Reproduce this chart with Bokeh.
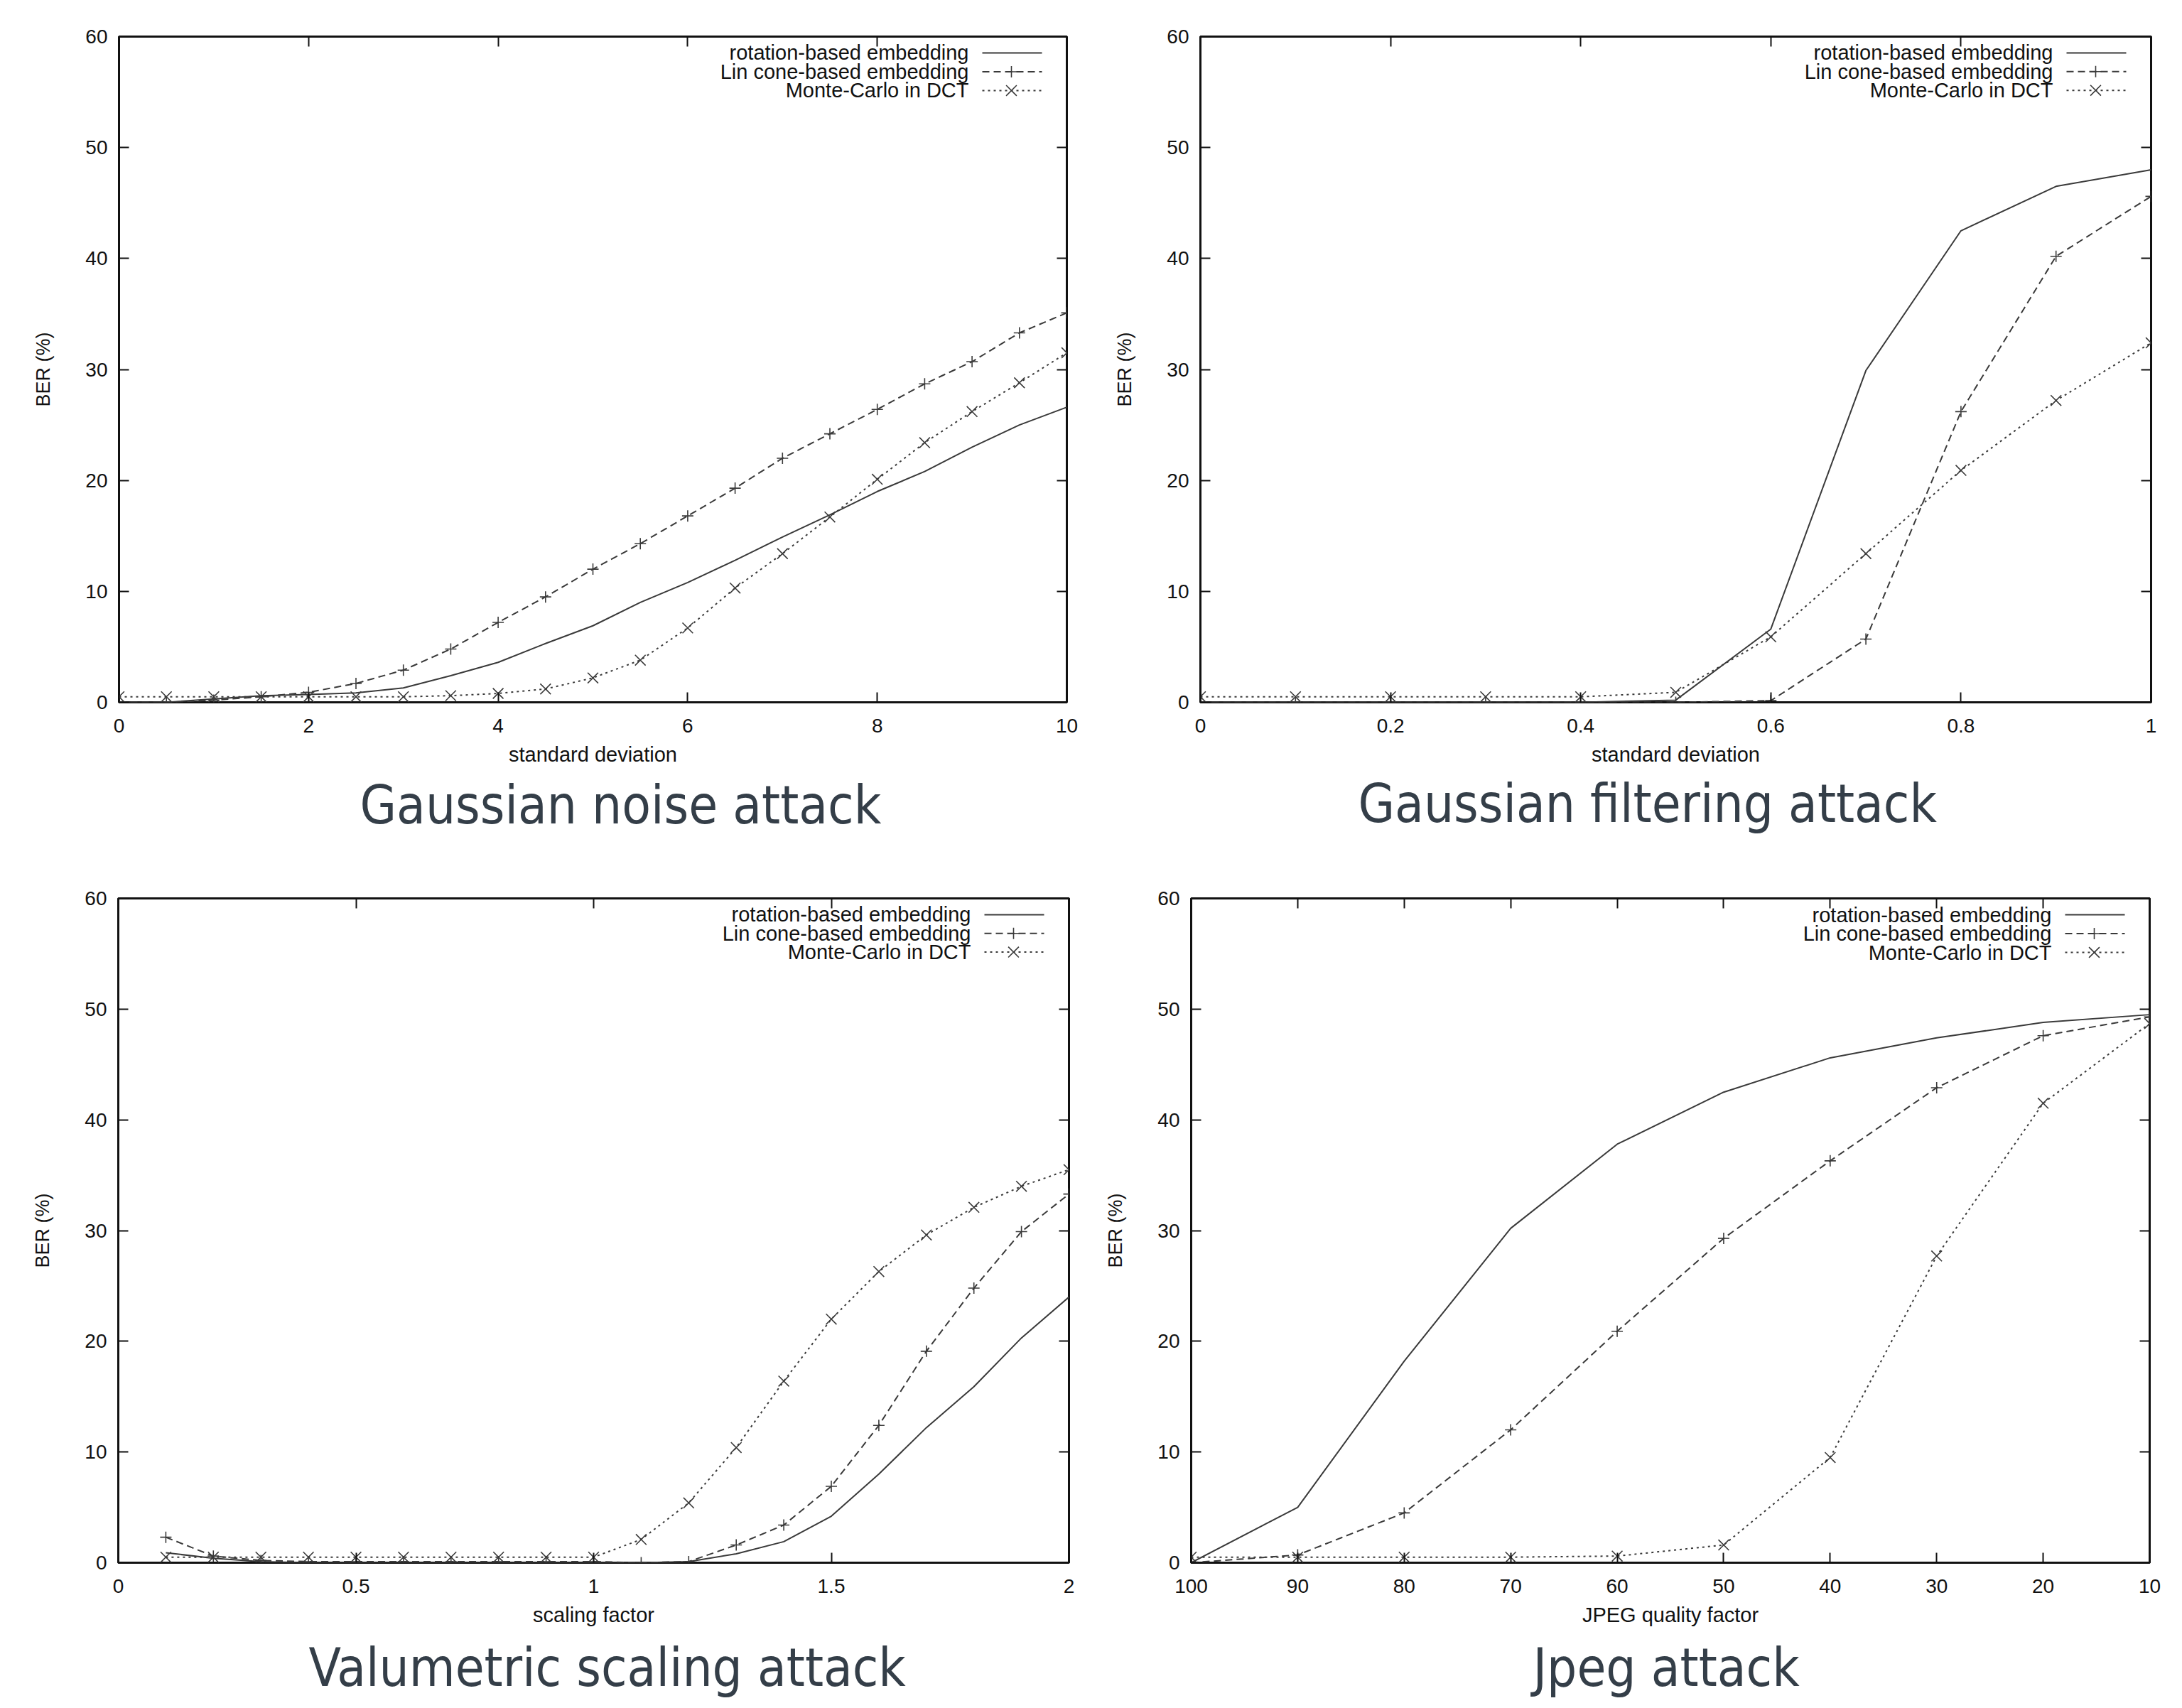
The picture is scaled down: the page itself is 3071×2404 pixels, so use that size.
from bokeh.plotting import figure
from bokeh.layouts import column, row
from bokeh.models import Range1d, FixedTicker, LinearAxis, Label, Title, CustomJSTickFormatter
from bokeh.embed import file_html
from bokeh.resources import INLINE

# ---------------- data ----------------
SERIES = ["rotation-based embedding", "Lin cone-based embedding", "Monte-Carlo in DCT"]
Y_TICKS = [0, 10, 20, 30, 40, 50, 60]
Y_LABEL = "BER (%)"

# Gaussian noise attack
noise_x = [0, 0.5, 1, 1.5, 2, 2.5, 3, 3.5, 4, 4.5, 5, 5.5, 6, 6.5, 7, 7.5, 8, 8.5, 9, 9.5, 10]
noise_rot = [0, 0, 0.3, 0.6, 0.7, 0.85, 1.3, 2.4, 3.6, 5.3, 6.9, 9.0, 10.8, 12.8, 14.9, 16.9, 19.0, 20.8, 23.0, 25.0, 26.6]
noise_lin = [0, 0, 0.2, 0.5, 0.9, 1.7, 2.9, 4.8, 7.2, 9.5, 12.0, 14.3, 16.8, 19.3, 22.0, 24.2, 26.4, 28.7, 30.7, 33.3, 35.1]
noise_mc = [0.5, 0.5, 0.5, 0.5, 0.5, 0.5, 0.5, 0.6, 0.8, 1.2, 2.2, 3.8, 6.7, 10.3, 13.4, 16.7, 20.1, 23.4, 26.2, 28.8, 31.5]
noise_ticks = [0, 2, 4, 6, 8, 10]
noise_tick_labels = ["0", "2", "4", "6", "8", "10"]

# Gaussian filtering attack
filter_x = [0, 0.1, 0.2, 0.3, 0.4, 0.5, 0.6, 0.7, 0.8, 0.9, 1.0]
filter_rot = [0, 0, 0, 0, 0, 0.2, 6.6, 29.9, 42.5, 46.5, 48.0]
filter_lin = [0, 0, 0, 0, 0, 0, 0.15, 5.7, 26.2, 40.2, 45.6]
filter_mc = [0.5, 0.5, 0.5, 0.5, 0.5, 0.9, 5.9, 13.4, 20.9, 27.2, 32.4]
filter_ticks = [0, 0.2, 0.4, 0.6, 0.8, 1]
filter_tick_labels = ["0", "0.2", "0.4", "0.6", "0.8", "1"]

# Valumetric scaling attack
scale_x = [0.1, 0.2, 0.3, 0.4, 0.5, 0.6, 0.7, 0.8, 0.9, 1.0, 1.1, 1.2, 1.3, 1.4, 1.5, 1.6, 1.7, 1.8, 1.9, 2.0]
scale_rot = [0.9, 0.4, 0.1, 0, 0, 0, 0, 0, 0, 0, 0, 0.1, 0.8, 1.9, 4.2, 8.0, 12.2, 15.9, 20.3, 24.0]
scale_lin = [2.3, 0.6, 0.2, 0.1, 0.1, 0.1, 0.1, 0.1, 0.1, 0.1, 0, 0.1, 1.6, 3.4, 6.9, 12.4, 19.1, 24.8, 29.9, 33.3]
scale_mc = [0.5, 0.5, 0.5, 0.5, 0.5, 0.5, 0.5, 0.5, 0.5, 0.5, 2.1, 5.4, 10.4, 16.4, 22.0, 26.3, 29.6, 32.1, 34.0, 35.5]
scale_ticks = [0, 0.5, 1, 1.5, 2]
scale_tick_labels = ["0", "0.5", "1", "1.5", "2"]

# Jpeg attack
jpeg_x = [100, 90, 80, 70, 60, 50, 40, 30, 20, 10]
jpeg_rot = [0, 5.0, 18.2, 30.2, 37.8, 42.5, 45.6, 47.4, 48.8, 49.5]
jpeg_lin = [0, 0.7, 4.5, 12.0, 20.9, 29.3, 36.3, 42.9, 47.6, 49.3]
jpeg_mc = [0.5, 0.5, 0.5, 0.5, 0.6, 1.6, 9.5, 27.7, 41.5, 48.7]
jpeg_ticks = [100, 90, 80, 70, 60, 50, 40, 30, 20, 10]
jpeg_tick_labels = ["100", "90", "80", "70", "60", "50", "40", "30", "20", "10"]

# ---------------- style ----------------
INK = "#111111"
LINE_COLOR = "#3a3a3a"
TITLE_COLOR = "#343e48"
TEXT_FONT = "Liberation Sans"
TITLE_FONT = "DejaVu Sans Condensed, DejaVu Sans, sans-serif"
STYLES = [
    dict(dash="solid", marker=None, size=0),
    dict(dash="10 6", marker="cross", size=16),
    dict(dash="3 5", marker="x", size=21),
]
# legend layout in pixels measured from the frame's top-right corner
LEG_TEXT_RIGHT = 138
LEG_LINE = (119, 35)
LEG_MARK = 78
LEG_ROW0 = 23
LEG_ROW_STEP = 26.5


def make_panel(xs, series, x_start, x_end, x_ticks, x_tick_labels, x_label, title, title_offset,
               title_standoff, width, height, bl, br, bt, bb):
    fw = width - bl - br
    fh = height - bt - bb
    p = figure(width=width, height=height,
               x_range=Range1d(x_start, x_end), y_range=Range1d(Y_TICKS[0], Y_TICKS[-1]),
               output_backend="svg", toolbar_location=None, title=None,
               min_border_left=bl, min_border_right=br, min_border_top=bt, min_border_bottom=bb)
    p.extra_x_ranges = {"px": Range1d(0, fw)}
    p.extra_y_ranges = {"py": Range1d(0, fh)}
    p.xgrid.visible = False
    p.ygrid.visible = False
    p.outline_line_color = INK
    p.outline_line_width = 3
    p.outline_line_alpha = 1
    p.background_fill_color = "white"
    p.border_fill_color = "white"

    xa = p.xaxis[0]
    xa.ticker = FixedTicker(ticks=x_ticks)
    xa.major_label_overrides = {t: l for t, l in zip(x_ticks, x_tick_labels)}
    xa.axis_label = x_label
    ya = p.yaxis[0]
    ya.ticker = FixedTicker(ticks=Y_TICKS)
    ya.axis_label = Y_LABEL
    top = LinearAxis(ticker=FixedTicker(ticks=x_ticks), formatter=CustomJSTickFormatter(code="return ''"))
    right = LinearAxis(ticker=FixedTicker(ticks=Y_TICKS), formatter=CustomJSTickFormatter(code="return ''"))
    p.add_layout(top, "above")
    p.add_layout(right, "right")
    for ax in (xa, ya, top, right):
        ax.axis_line_color = None
        ax.major_tick_in = 14
        ax.major_tick_out = 0
        ax.major_tick_line_color = INK
        ax.major_tick_line_width = 2
        ax.minor_tick_line_color = None
        ax.major_label_text_font = TEXT_FONT
        ax.major_label_text_font_size = "28px"
        ax.major_label_text_color = INK
        ax.axis_label_text_font = TEXT_FONT
        ax.axis_label_text_font_size = "29px"
        ax.axis_label_text_font_style = "normal"
        ax.axis_label_text_color = INK
    for ax in (top, right):
        ax.major_label_text_font_size = "0px"
        ax.major_label_standoff = 0
    ya.axis_label_text_font_size = "27px"
    xa.major_label_standoff = 23
    xa.axis_label_standoff = 12
    ya.major_label_standoff = 16
    ya.axis_label_standoff = 41

    for ys, st in zip(series, STYLES):
        p.line(xs, ys, line_color=LINE_COLOR, line_width=2, line_dash=st["dash"])
    for ys, st in zip(series, STYLES):
        if st["marker"]:
            p.scatter(xs, ys, marker=st["marker"], size=st["size"], line_color=LINE_COLOR,
                      line_width=1.6, fill_color=None)

    # gnuplot-style key: text right-aligned, sample to its right
    for i, (name, st) in enumerate(zip(SERIES, STYLES)):
        ry = fh - LEG_ROW0 - i * LEG_ROW_STEP
        p.add_layout(Label(x=fw - LEG_TEXT_RIGHT, y=ry, x_range_name="px", y_range_name="py",
                           text=name, text_align="right", text_baseline="middle",
                           text_font=TEXT_FONT, text_font_size="29px", text_color=INK))
        p.line([fw - LEG_LINE[0], fw - LEG_LINE[1]], [ry, ry], x_range_name="px", y_range_name="py",
               line_color=LINE_COLOR, line_width=2, line_dash=st["dash"])
        if st["marker"]:
            p.scatter([fw - LEG_MARK], [ry], x_range_name="px", y_range_name="py",
                      marker=st["marker"], size=st["size"], line_color=LINE_COLOR,
                      line_width=1.6, fill_color=None)

    p.add_layout(Title(text=title, align="left", offset=title_offset, standoff=title_standoff,
                       text_font=TITLE_FONT, text_font_size="74px", text_font_style="normal",
                       text_color=TITLE_COLOR), "below")
    return p


p1 = make_panel(noise_x, [noise_rot, noise_lin, noise_mc], 0, 10, noise_ticks, noise_tick_labels,
                "standard deviation", "Gaussian noise attack", 339, 15,
                1538, 1216, 167, 37, 50, 228)
p2 = make_panel(filter_x, [filter_rot, filter_lin, filter_mc], 0, 1, filter_ticks, filter_tick_labels,
                "standard deviation", "Gaussian filtering attack", 222, 11,
                1532, 1216, 151, 43, 51, 224)
p3 = make_panel(scale_x, [scale_rot, scale_lin, scale_mc], 0, 2, scale_ticks, scale_tick_labels,
                "scaling factor", "Valumetric scaling attack", 268, 20,
                1538, 1188, 166, 34, 43, 205)
p4 = make_panel(jpeg_x, [jpeg_rot, jpeg_lin, jpeg_mc], 100, 10, jpeg_ticks, jpeg_tick_labels,
                "JPEG quality factor", "Jpeg attack", 481, 20,
                1532, 1188, 138, 45, 48, 205)

layout = column(row(p1, p2, spacing=0), row(p3, p4, spacing=0), spacing=0)
open("out.html", "w").write(file_html(layout, INLINE))
